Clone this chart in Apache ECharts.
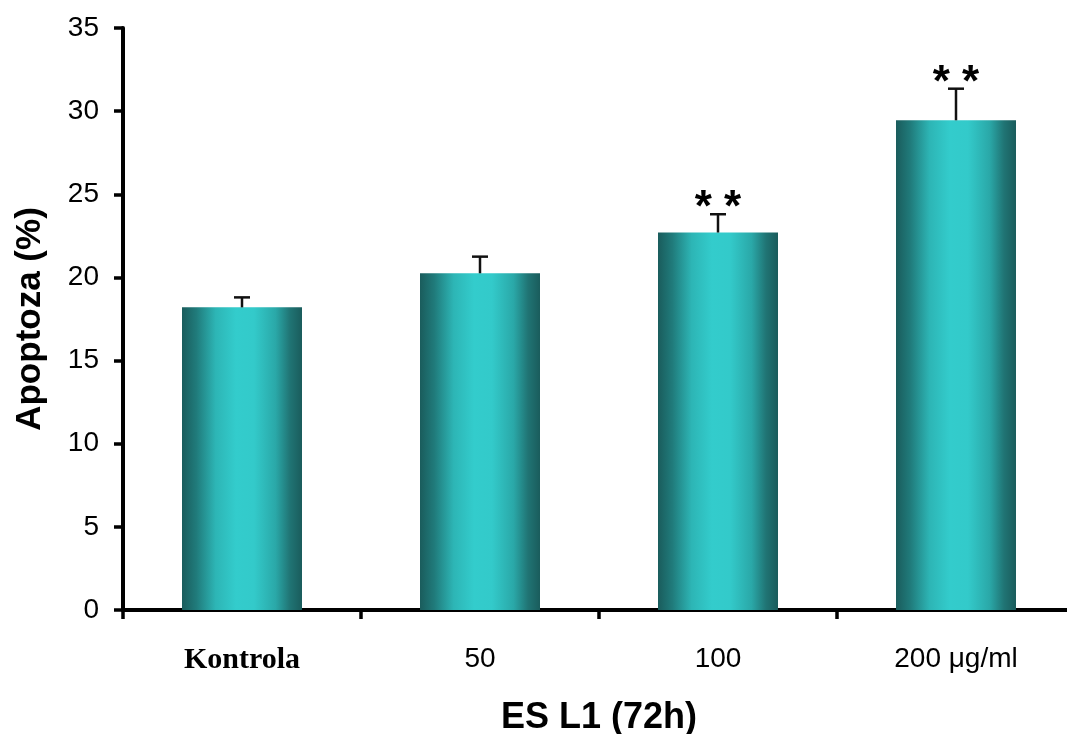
<!DOCTYPE html>
<html>
<head>
<meta charset="utf-8">
<script src="https://cdn.jsdelivr.net/npm/echarts@6/dist/echarts.min.js"></script>
<style>
  html, body { margin: 0; padding: 0; background: #fff; }
  #chart { width: 1067px; height: 734px; }
</style>
</head>
<body>
<div id="chart"></div>
<script>
// Apoptosis after 72 h treatment with ES L1 antigen
const categories = ['Kontrola', '50', '100', '200 μg/ml'];
const apoptosis = [18.2, 20.25, 22.7, 29.45];   // mean, %
const errors = [0.6, 1.0, 1.1, 1.9];            // upper error bar
const significance = ['', '', '**', '**'];
const yTicks = { min: 0, max: 35, interval: 5 };

const chart = echarts.init(document.getElementById('chart'), null, { renderer: 'canvas' });

const barGradient = new echarts.graphic.LinearGradient(0, 0, 1, 0, [
  { offset: 0.00, color: '#1a5c5c' },
  { offset: 0.12, color: '#207b7b' },
  { offset: 0.28, color: '#2db5b5' },
  { offset: 0.45, color: '#33cccc' },
  { offset: 0.60, color: '#33caca' },
  { offset: 0.78, color: '#2aa8a8' },
  { offset: 0.90, color: '#207474' },
  { offset: 1.00, color: '#1a5c5c' }
]);

const errorData = apoptosis.map((v, i) => [i, v, errors[i]]);

chart.setOption({
  animation: false,
  backgroundColor: '#ffffff',
  grid: { left: 123, top: 28, width: 952, bottom: 124, containLabel: false, outerBoundsMode: 'none' },
  xAxis: {
    type: 'category',
    data: categories,
    name: 'ES L1 (72h)',
    nameLocation: 'middle',
    nameGap: 90,
    nameTextStyle: { fontFamily: 'Liberation Sans, Arial', fontWeight: 'bold', fontSize: 36, color: '#000' },
    axisLine: { lineStyle: { color: '#000', width: 4 } },
    axisTick: { show: true, alignWithLabel: false, length: 9, lineStyle: { color: '#000', width: 3.5 } },
    axisLabel: {
      margin: 35,
      formatter: (v, i) => (i === 0 ? '{k|' + v + '}' : '{n|' + v + '}'),
      rich: {
        k: { fontFamily: 'Liberation Serif, Times New Roman', fontWeight: 'bold', fontSize: 30, color: '#000' },
        n: { fontFamily: 'Liberation Sans, Arial', fontSize: 28, color: '#000' }
      }
    }
  },
  yAxis: {
    type: 'value',
    min: yTicks.min,
    max: yTicks.max,
    interval: yTicks.interval,
    name: 'Apoptoza (%)',
    nameLocation: 'middle',
    nameGap: 75,
    nameRotate: 90,
    nameTextStyle: { fontFamily: 'Liberation Sans, Arial', fontWeight: 'bold', fontSize: 35, color: '#000' },
    axisLine: { show: true, lineStyle: { color: '#000', width: 4 } },
    axisTick: { show: true, length: 9, lineStyle: { color: '#000', width: 3.5 } },
    splitLine: { show: false },
    axisLabel: { margin: 24, fontFamily: 'Liberation Sans, Arial', fontSize: 28, color: '#000' }
  },
  series: [
    {
      type: 'bar',
      data: apoptosis,
      barWidth: 120,
      itemStyle: { color: barGradient },
      z: 2
    },
    {
      type: 'custom',
      data: errorData,
      z: 3,
      renderItem: (params, api) => {
        const i = api.value(0);
        const v = api.value(1);
        const e = api.value(2);
        const sig = significance[params.dataIndex];
        const base = api.coord([i, v]);
        const top = api.coord([i, v + e]);
        const capHalf = 8;
        const children = [
          { type: 'line', shape: { x1: base[0], y1: base[1], x2: top[0], y2: top[1] },
            style: { stroke: '#111', lineWidth: 2.5 } },
          { type: 'line', shape: { x1: top[0] - capHalf, y1: top[1], x2: top[0] + capHalf, y2: top[1] },
            style: { stroke: '#111', lineWidth: 2.5 } }
        ];
        if (sig) {
          children.push({
            type: 'text',
            style: {
              text: sig.split('').join(' '),
              x: top[0], y: top[1] - 5,
              align: 'center', verticalAlign: 'middle',
              fontFamily: 'Liberation Sans, Arial', fontWeight: 'bold', fontSize: 44, fill: '#000'
            }
          });
        }
        return { type: 'group', children };
      }
    }
  ]
});
</script>
</body>
</html>
